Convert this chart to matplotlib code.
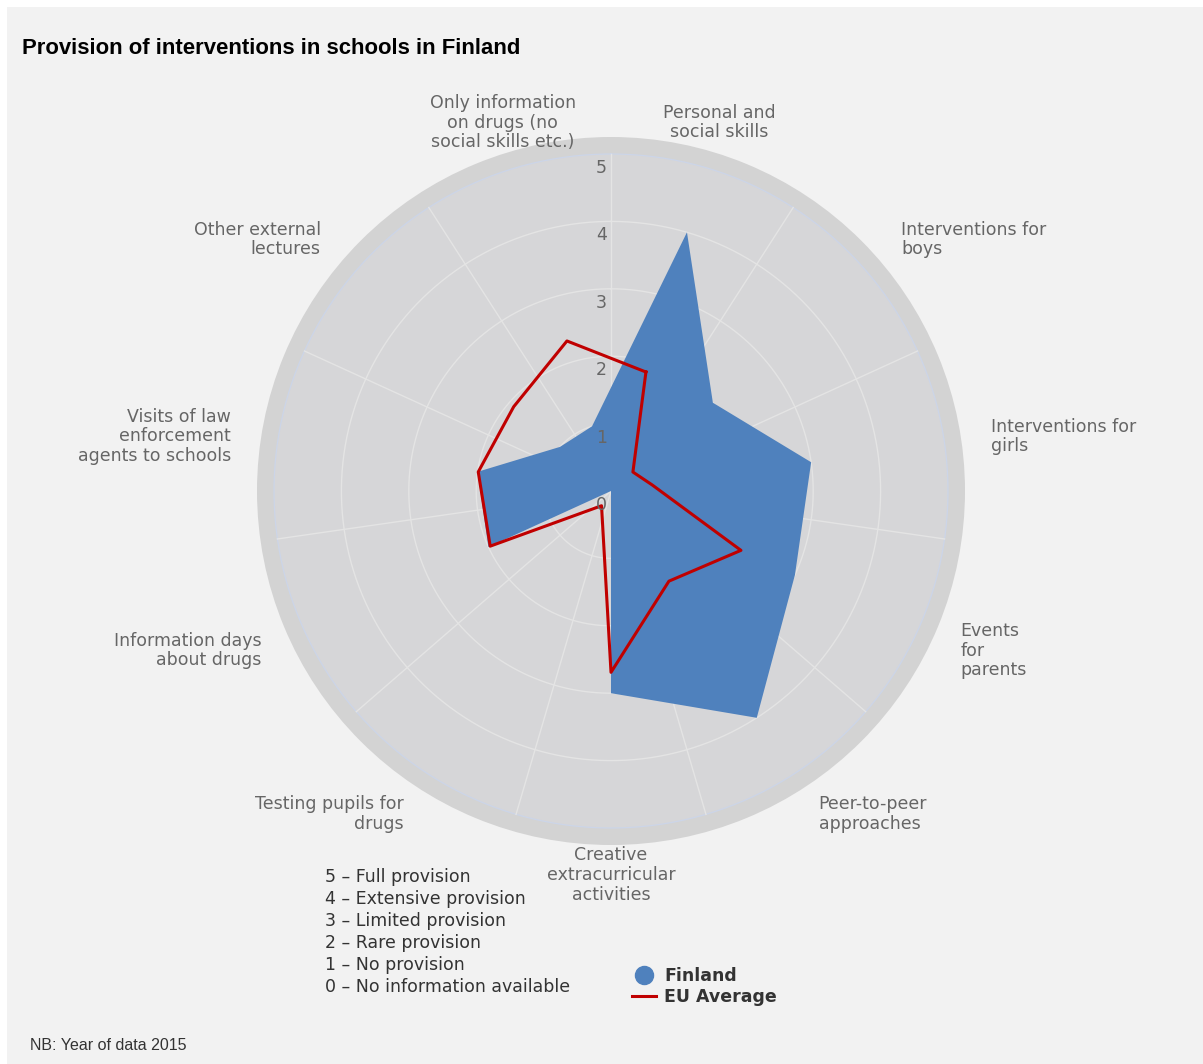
import numpy as np
import matplotlib.pyplot as plt
from matplotlib.lines import Line2D
from matplotlib.patches import Rectangle

# Categories in clockwise order, starting just right of the top
categories = [
    "Personal and\nsocial skills",
    "Interventions for\nboys",
    "Interventions for\ngirls",
    "Events\nfor\nparents",
    "Peer-to-peer\napproaches",
    "Creative\nextracurricular\nactivities",
    "Testing pupils for\ndrugs",
    "Information days\nabout drugs",
    "Visits of law\nenforcement\nagents to schools",
    "Other external\nlectures",
    "Only information\non drugs (no\nsocial skills etc.)",
]
finland = [4, 2, 3, 3, 4, 3, 0, 2, 2, 1, 1]
eu_average = [1.84, 0.43, 0.62, 2.12, 1.59, 2.69, 0.26, 1.97, 1.99, 1.91, 2.32]
scale_ticks = [0, 1, 2, 3, 4, 5]
scale_labels = [
    "5 – Full provision",
    "4 – Extensive provision",
    "3 – Limited provision",
    "2 – Rare provision",
    "1 – No provision",
    "0 – No information available",
]

W, H = 1203, 1064
cx, cy = 611, 491          # chart centre in pixels
r_pane = 337               # radius of value 5
r_disk = 354               # outer grey disk
rmax = 5 * r_disk / r_pane

fig = plt.figure(figsize=(W / 100, H / 100), dpi=100)
fig.patch.set_facecolor("white")
fig.add_artist(Rectangle((7 / W, 0), 1, 1 - 7 / H, transform=fig.transFigure,
                         facecolor="#f2f2f2", edgecolor="none", zorder=-10))

ax = fig.add_axes([(cx - r_disk) / W, (H - cy - r_disk) / H, 2 * r_disk / W, 2 * r_disk / H],
                  projection="polar")
ax.set_theta_zero_location("N")
ax.set_theta_direction(-1)
ax.set_ylim(0, rmax)
ax.set_facecolor("#d3d3d3")
ax.spines["polar"].set_visible(False)
ax.set_xticks([])
ax.set_yticks([])
ax.grid(False)

n = len(categories)
step = 2 * np.pi / n
angles = (np.arange(n) + 0.5) * step
ring = np.linspace(0, 2 * np.pi, 400)

# pane and grid
ax.fill(ring, np.full_like(ring, 5), color="#d6d6d8", lw=0, zorder=0)
for v in scale_ticks[1:-1]:
    ax.plot(ring, np.full_like(ring, v), color="#e4e4e4", lw=1, zorder=1)
ax.plot(ring, np.full_like(ring, 5), color="#ccd5e8", lw=0.9, zorder=1)
for a in np.arange(n) * step:
    ax.plot([a, a], [0, 5], color="#e4e4e4", lw=1, zorder=1)

# series
th = np.append(angles, angles[0])
ax.fill(th, finland + finland[:1], color="#4f81bd", lw=0, zorder=2)
ax.plot(th, eu_average + eu_average[:1], color="#c00000", lw=2.2,
        solid_joinstyle="round", zorder=3)

# radial value labels
for v in scale_ticks:
    ax.annotate(str(v), xy=(0, v), xytext=(-4, -14), textcoords="offset pixels",
                ha="right", va="center", fontsize=12.5, color="#666666", zorder=5)

# category labels
r_label = 5 * 384 / r_pane
for a, lab in zip(angles, categories):
    s = np.sin(a)
    ha = "center" if abs(s) < 0.35 else ("left" if s > 0 else "right")
    ax.text(a, r_label, lab, ha=ha, va="center", fontsize=12.5, color="#666666",
            linespacing=1.12)

# titles
fig.text(22 / W, 1 - 48 / H, "Provision of interventions in schools in Finland",
         fontsize=15.95, fontweight="bold", family="Liberation Sans", va="center", color="black")
fig.text(30 / W, 1 - 1046 / H, "NB: Year of data 2015", fontsize=11.5,
         family="Liberation Sans", va="center", color="#333333")

# scale description
for i, txt in enumerate(scale_labels):
    fig.text(325 / W, 1 - (877 + 22 * i) / H, txt, fontsize=12.5, color="#333333", va="center")

handles = [
    Line2D([], [], marker="o", linestyle="none", markersize=13, color="#4f81bd"),
    Line2D([], [], color="#c00000", lw=2.2),
]
fig.legend(handles, ["Finland", "EU Average"], loc="upper left",
           bbox_to_anchor=(632 / W, 1 - 967 / H), frameon=False, borderpad=0,
           borderaxespad=0, handlelength=1.4, handletextpad=0.45, labelspacing=0.15,
           prop={"weight": "bold", "size": 12.5}, labelcolor="#333333")

fig.savefig("out.png", dpi=100, facecolor=fig.get_facecolor())
